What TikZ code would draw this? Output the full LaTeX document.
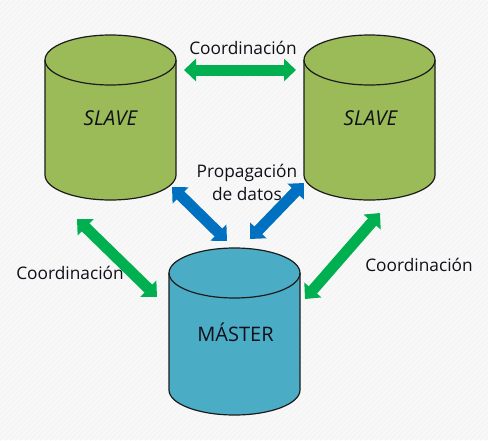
\documentclass[tikz,border=0pt]{standalone}
\usepackage{fontspec}
\setmainfont{Open Sans}
\usetikzlibrary{arrows.meta}
\definecolor{slavefill}{HTML}{9BBB59}
\definecolor{masterfill}{HTML}{4BACC6}
\definecolor{greenarrow}{HTML}{00B050}
\definecolor{bluearrow}{HTML}{0070C0}
\definecolor{inkline}{HTML}{1C1C1C}
\definecolor{inktext}{HTML}{101018}
\definecolor{bgpage}{HTML}{FAFAFA}
\definecolor{bgstripe}{HTML}{F5F5F5}
\tikzset{
  cylbody/.style={draw=inkline,line width=1.2pt},
  lbl/.style={font=\fontsize{17.3}{23}\selectfont,text=inktext,inner sep=0pt,align=center},
  dblabel/.style={font=\fontsize{20}{24}\selectfont,text=inktext,inner sep=0pt},
  slavelabel/.style={font=\fontsize{20.5}{24}\selectfont\itshape,text=inktext,inner sep=0pt},
  link/.style={line width=11pt,{Triangle[length=12pt,width=22pt]}-{Triangle[length=12pt,width=22pt]}},
  greenlink/.style={link,draw=greenarrow},
  bluelink/.style={link,draw=bluearrow}
}
% #1 centre x, #2 y of the upper ellipse centre, #3 body height, #4 fill
\newcommand{\dbcyl}[4]{%
  \path[cylbody,fill=#4] (#1-65.5,#2) -- (#1-65.5,#2+#3)
    arc[x radius=65.5,y radius=25,start angle=180,end angle=0]
    -- (#1+65.5,#2)
    arc[x radius=65.5,y radius=25,start angle=0,end angle=-180] -- cycle;
  \draw[cylbody] (#1-65.5,#2)
    arc[x radius=65.5,y radius=25,start angle=180,end angle=0];
}
\begin{document}
\begin{tikzpicture}[x=1pt,y=-1pt]
\useasboundingbox (0,0) rectangle (488,440);
\fill[bgpage] (0,0) rectangle (488,440);
\begin{scope}
\clip (0,0) rectangle (488,440);
\foreach \k in {0,5,...,930}{\draw[bgstripe,line width=2pt] (\k,0) -- (\k-440,440);}
\end{scope}
\dbcyl{110.5}{60}{115}{slavefill}
\dbcyl{369.5}{60}{115}{slavefill}
\dbcyl{234.5}{273}{117}{masterfill}
\node[slavelabel] (s1) at (110.5,118) {SLAVE};
\node[slavelabel] (s2) at (370.5,118) {SLAVE};
\node[dblabel] (m) at (235.5,332) {MÁSTER};
\coordinate (a1) at (184,70);
\coordinate (a2) at (296,70);
\coordinate (b1) at (77,219);
\coordinate (b2) at (157,297);
\coordinate (c1) at (380,213);
\coordinate (c2) at (305,299);
\coordinate (d1) at (172,187);
\coordinate (d2) at (227,241);
\coordinate (e1) at (304,183);
\coordinate (e2) at (250,239);
\draw[greenlink] (a1) -- (a2);
\draw[greenlink] (b1) -- (b2);
\draw[greenlink] (c1) -- (c2);
\draw[bluelink] (d1) -- (d2);
\draw[bluelink] (e1) -- (e2);
\node[lbl] (l1) at (243,48) {Coordinación};
\node[lbl] (l2) at (70,273) {Coordinación};
\node[lbl] (l3) at (419,265) {Coordinación};
\node[lbl] (l4) at (247,182) {Propagación\\de datos};
\end{tikzpicture}
\end{document}
